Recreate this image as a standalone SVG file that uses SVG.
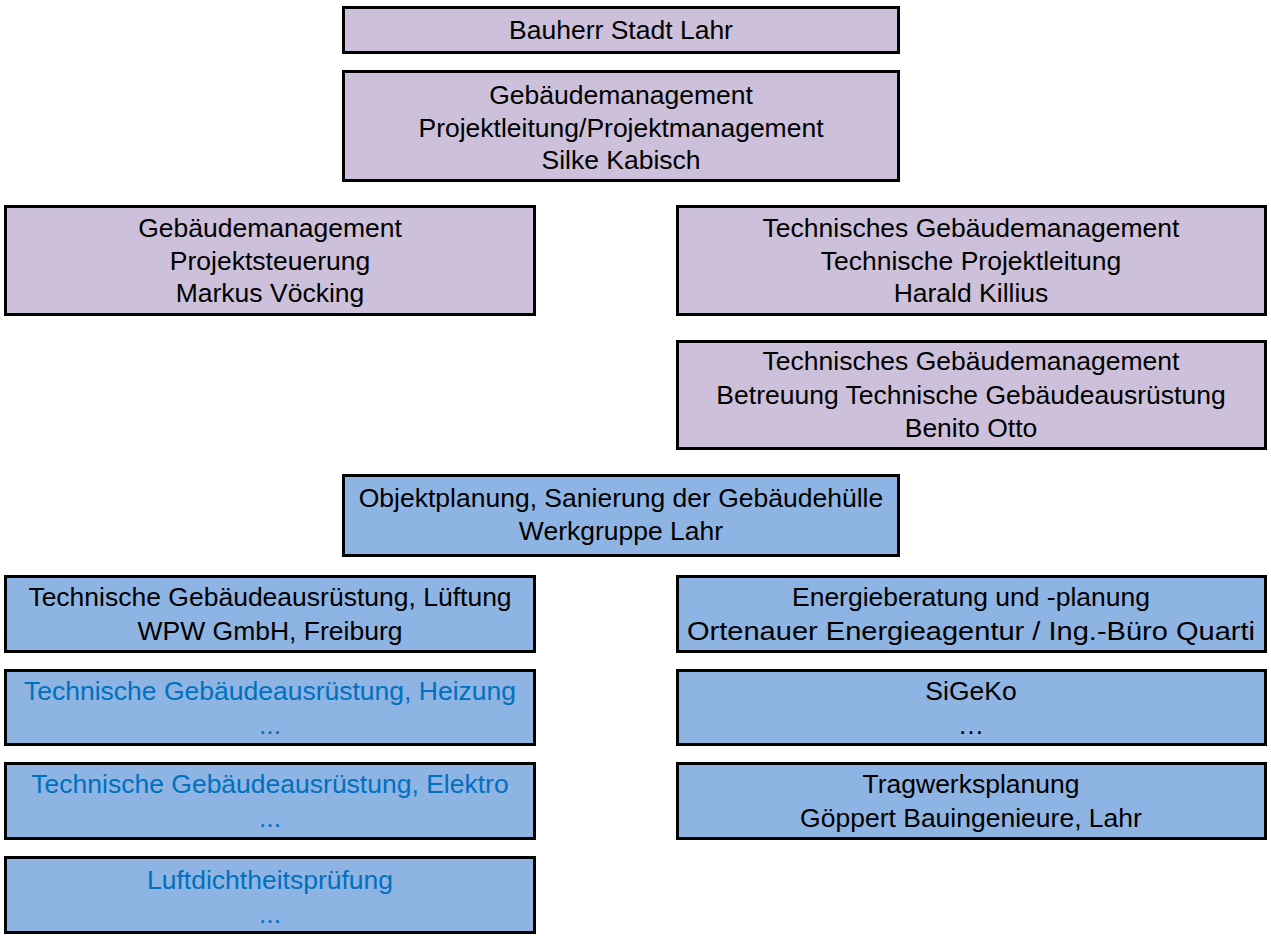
<svg xmlns="http://www.w3.org/2000/svg" width="1271" height="944" viewBox="0 0 1271 944">
<style>
.box{stroke:#000;stroke-width:3}
.p{fill:#CCC0DA}
.b{fill:#8DB4E2}
text{font-family:"Liberation Sans",Arial,sans-serif;font-size:26.5px;text-anchor:middle;fill:#000}
text.blue{fill:#0070C0}
</style>
<rect width="1271" height="944" fill="#fff"/>
<g id="connectors"></g>
<g id="n1"><rect class="box p" x="343.5" y="7.5" width="555" height="45"/><text x="621" y="39">Bauherr Stadt Lahr</text></g>
<g id="n2"><rect class="box p" x="343.5" y="71.5" width="555" height="109"/><text x="621" y="104">Gebäudemanagement</text><text x="621" y="137">Projektleitung/Projektmanagement</text><text x="621" y="169">Silke Kabisch</text></g>
<g id="n3"><rect class="box p" x="5.5" y="206.5" width="529" height="108"/><text x="270" y="237">Gebäudemanagement</text><text x="270" y="270">Projektsteuerung</text><text x="270" y="302">Markus Vöcking</text></g>
<g id="n4"><rect class="box p" x="677.5" y="206.5" width="588" height="108"/><text x="971" y="237">Technisches Gebäudemanagement</text><text x="971" y="270">Technische Projektleitung</text><text x="971" y="302">Harald Killius</text></g>
<g id="n5"><rect class="box p" x="677.5" y="341.5" width="588" height="107"/><text x="971" y="370">Technisches Gebäudemanagement</text><text x="971" y="404">Betreuung Technische Gebäudeausrüstung</text><text x="971" y="437">Benito Otto</text></g>
<g id="n6"><rect class="box b" x="343.5" y="475.5" width="555" height="80"/><text x="621" y="507">Objektplanung, Sanierung der Gebäudehülle</text><text x="621" y="540">Werkgruppe Lahr</text></g>
<g id="n7"><rect class="box b" x="5.5" y="576.5" width="529" height="75"/><text x="270" y="606">Technische Gebäudeausrüstung, Lüftung</text><text x="270" y="640">WPW GmbH, Freiburg</text></g>
<g id="n8"><rect class="box b" x="5.5" y="670.5" width="529" height="74"/><text class="blue" x="270" y="700">Technische Gebäudeausrüstung, Heizung</text><text class="blue" x="270" y="734">...</text></g>
<g id="n9"><rect class="box b" x="5.5" y="763.5" width="529" height="75"/><text class="blue" x="270" y="793">Technische Gebäudeausrüstung, Elektro</text><text class="blue" x="270" y="827">...</text></g>
<g id="n10"><rect class="box b" x="5.5" y="857.5" width="529" height="75"/><text class="blue" x="270" y="889">Luftdichtheitsprüfung</text><text class="blue" x="270" y="923">...</text></g>
<g id="n11"><rect class="box b" x="677.5" y="576.5" width="588" height="75"/><text x="971" y="606">Energieberatung und -planung</text><text x="971" y="640" textLength="568" lengthAdjust="spacingAndGlyphs">Ortenauer Energieagentur / Ing.-Büro Quarti</text></g>
<g id="n12"><rect class="box b" x="677.5" y="670.5" width="588" height="74"/><text x="971" y="700">SiGeKo</text><text x="971" y="734">…</text></g>
<g id="n13"><rect class="box b" x="677.5" y="763.5" width="588" height="75"/><text x="971" y="793">Tragwerksplanung</text><text x="971" y="827">Göppert Bauingenieure, Lahr</text></g>
</svg>
